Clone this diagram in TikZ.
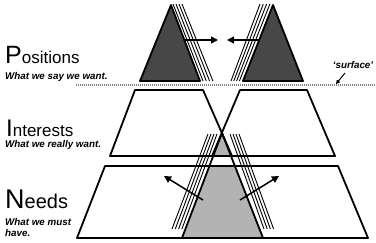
\documentclass[tikz,border=0pt]{standalone}
\usepackage{fontspec}
\setmainfont{Liberation Sans}
\usetikzlibrary{arrows.meta}
\definecolor{topgray}{HTML}{474747}
\definecolor{lowgray}{HTML}{B3B3B3}
\begin{document}
\begin{tikzpicture}[x=1pt,y=-1pt,
  outline/.style={line width=1.8pt,line join=round},
  hatch/.style={line width=0.9pt},
  push/.style={line width=1.5pt,-{Triangle[length=7pt,width=7pt]}},
  big/.style={anchor=base west,inner sep=0pt},
  sub/.style={anchor=base west,inner sep=0pt,font=\fontsize{9.8}{11}\selectfont\bfseries\itshape}]
\useasboundingbox (0,0) rectangle (376,242);
% top triangles
\filldraw[outline,fill=topgray] (171,5) -- (200,81) -- (140,81) -- cycle;
\filldraw[outline,fill=topgray] (273,5) -- (303,81) -- (243,81) -- cycle;
\foreach \i in {0,...,3} \draw[hatch] (173+3*\i,4) -- (203+3.3*\i,81);
\foreach \i in {0,...,3} \draw[hatch] (260+3.3*\i,4) -- (231+2.8*\i,81);
\coordinate (la) at (184,40); \coordinate (lb) at (218,40);
\coordinate (ra) at (259,40); \coordinate (rb) at (227,40);
\draw[push] (la) -- (lb);
\draw[push] (ra) -- (rb);
% surface line
\draw[gray,line width=1.5pt,dash pattern=on 1pt off 1pt] (76,85) -- (376,85);
\node[sub,anchor=center] (surf) at (353,65) {‘surface’};
\coordinate (sa) at (345,73); \coordinate (sb) at (336,84);
\draw[line width=1pt,-{Triangle[length=4pt,width=4pt]}] (sa) -- (sb);
% lower grey triangle
\fill[lowgray] (222,133) -- (263,238) -- (182,238) -- cycle;
\fill[white] (150,156) rectangle (300,166);
\draw[outline] (182,238) -- (222,133) -- (263,238);
\foreach \i in {0,...,3} \draw[hatch] (208+3*\i,134) -- (172+3.3*\i,229);
\foreach \i in {0,...,3} \draw[hatch] (230+3*\i,134) -- (264+3.2*\i,229);
% trapezoids
\draw[outline] (110,156) -- (135,90) -- (203,90) -- (232,156) -- cycle;
\draw[outline] (212,156) -- (240,90) -- (307,90) -- (335,156) -- cycle;
\draw[outline] (77,238) -- (105,166) -- (338,166) -- (368,238) -- cycle;
\coordinate (da) at (203,200); \coordinate (db) at (164,176);
\coordinate (ea) at (240,200); \coordinate (eb) at (279,176);
\draw[push] (da) -- (db);
\draw[push] (ea) -- (eb);
% texts
\node[big] (pos) at (5,63) {{\fontsize{25}{25}\selectfont P}{\fontsize{17}{17}\selectfont ositions}};
\node[sub] (posd) at (5,79.5) {What we say we want.};
\node[big] (int) at (6,136.5) {{\fontsize{24}{24}\selectfont I}{\fontsize{17}{17}\selectfont nterests}};
\node[sub] (intd) at (5,147.5) {What we really want.};
\node[big] (need) at (5,208) {{\fontsize{27}{27}\selectfont N}{\fontsize{20}{20}\selectfont eeds}};
\node[sub] (needd) at (5,225.5) {What we must};
\node[sub] (needd2) at (5,236.5) {have.};
\end{tikzpicture}
\end{document}
